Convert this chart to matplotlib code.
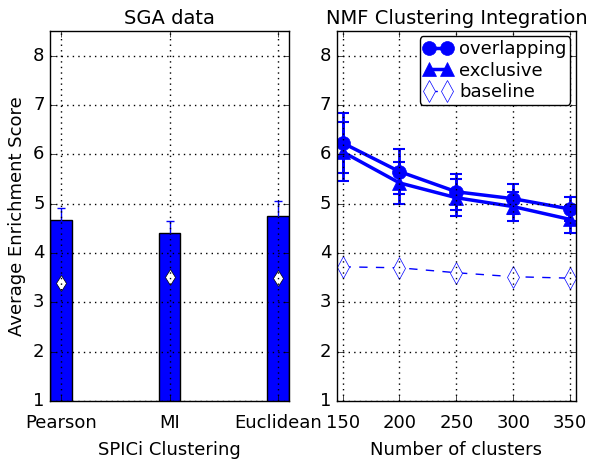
import matplotlib
matplotlib.use("Agg")
import matplotlib.pyplot as plt

plt.style.use("classic")
plt.rcParams["font.family"] = ["DejaVu Sans"]

# SGA data: SPICi clustering with different similarity measures
methods = ["Pearson", "MI", "Euclidean"]
sga_scores = [4.67, 4.41, 4.75]
sga_errors = [0.24, 0.24, 0.31]
sga_baseline = [3.39, 3.52, 3.49]

# NMF clustering integration
n_clusters = [150, 200, 250, 300, 350]
overlapping = [6.23, 5.65, 5.24, 5.10, 4.89]
overlapping_err = [0.60, 0.46, 0.36, 0.30, 0.25]
exclusive = [6.05, 5.42, 5.12, 4.94, 4.68]
exclusive_err = [0.60, 0.43, 0.38, 0.30, 0.27]
baseline = [3.72, 3.70, 3.60, 3.52, 3.49]

y_ticks = [1, 2, 3, 4, 5, 6, 7, 8]

fig = plt.figure(figsize=(5.9, 4.61), dpi=100, facecolor="white")
ax1 = fig.add_axes([0.085, 0.130, 0.405, 0.803])
ax2 = fig.add_axes([0.571, 0.130, 0.405, 0.803])

# Left panel: bars with error bars and baseline diamonds
pos = list(range(len(methods)))
ax1.bar(pos, sga_scores, width=0.2, bottom=0, align="center",
        color="blue", edgecolor="black", linewidth=1,
        yerr=sga_errors, ecolor="blue", capsize=3,
        error_kw=dict(elinewidth=1, capthick=1))
ax1.plot(pos, sga_baseline, linestyle="none", marker="d",
         markerfacecolor="white", markeredgecolor="black", markersize=8)
ax1.set_xlim(-0.1, 2.1)
ax1.set_ylim(1, 8.5)
ax1.set_xticks(pos)
ax1.set_xticklabels(methods)
ax1.set_yticks(y_ticks)
ax1.grid(True, color="black", linestyle=":", linewidth=1)
ax1.set_axisbelow(False)
ax1.set_title("SGA data", fontsize=14)
ax1.set_xlabel("SPICi Clustering", fontsize=13, labelpad=7)
ax1.set_ylabel("Average Enrichment Score", fontsize=13)

# Right panel: scores vs number of clusters
eb_over = ax2.errorbar(n_clusters, overlapping, yerr=overlapping_err, fmt="-o",
                       color="blue", markeredgecolor="blue", linewidth=2.5,
                       markersize=10, elinewidth=2, capsize=4, capthick=1.5)
eb_excl = ax2.errorbar(n_clusters, exclusive, yerr=exclusive_err, fmt="-^",
                       color="blue", markeredgecolor="blue", linewidth=2.5,
                       markersize=10, elinewidth=2, capsize=4, capthick=1.5)
base_line, = ax2.plot(n_clusters, baseline, linestyle="--", marker="d",
                      color="blue", markerfacecolor="white",
                      markeredgecolor="blue", markersize=11, linewidth=1)
ax2.set_xlim(145, 355)
ax2.set_ylim(1, 8.5)
ax2.set_xticks(n_clusters)
ax2.set_yticks(y_ticks)
ax2.grid(True, color="black", linestyle=":", linewidth=1)
ax2.set_title("NMF Clustering Integration", fontsize=14)
ax2.set_xlabel("Number of clusters", fontsize=13, labelpad=7)
leg = ax2.legend([eb_over[0], eb_excl[0], base_line],
                 ["overlapping", "exclusive", "baseline"],
                 loc="upper right", numpoints=2, fontsize=13,
                 fancybox=True, borderpad=0.2, labelspacing=0.2,
                 handlelength=1.6, handletextpad=0.4, borderaxespad=0.3)
leg.get_frame().set_edgecolor("black")

for ax in (ax1, ax2):
    ax.tick_params(labelsize=13, direction="in")
    ax.tick_params(axis="x", pad=9)

fig.savefig("out.png", dpi=100, facecolor="white")
